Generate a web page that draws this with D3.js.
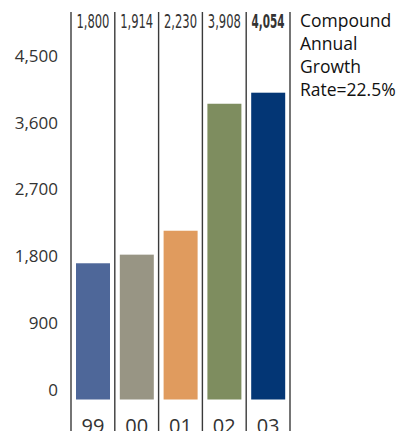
<!DOCTYPE html>
<html><head><meta charset="utf-8">
<script src="https://cdn.jsdelivr.net/npm/d3@7"></script>
<style>
html,body{margin:0;padding:0;background:#fff;}
svg{display:block;}
</style></head>
<body>
<svg id="chart" width="406" height="431"></svg>
<script>
const years = ["99", "00", "01", "02", "03"];
const values = [1800, 1914, 2230, 3908, 4054];
const valueLabels = ["1,800", "1,914", "2,230", "3,908", "4,054"];
const colors = ["#4e6799", "#989584", "#e09b5e", "#7e8d5f", "#033675"];
const yTicks = [0, 900, 1800, 2700, 3600, 4500];
const noteLines = ["Compound", "Annual", "Growth", "Rate=22.5%"];

const svg = d3.select("#chart");
const textColor = "#333";

const x = d3.scaleBand().domain(years).range([71, 290]).paddingInner(0).paddingOuter(0);
const y = d3.scaleLinear().domain([0, 4054]).range([399.5, 92.7]);
// tick label placement scale (labels sit slightly above their bar-scale positions in the original)
const yLab = d3.scaleLinear().domain([0, 4500]).range([390, 55.7]);

// bars
const barInset = 5, barW = 34;
svg.append("g").selectAll("rect").data(values).join("rect")
  .attr("x", (d, i) => x(years[i]) + barInset)
  .attr("y", d => y(d))
  .attr("width", barW)
  .attr("height", d => y(0) - y(d))
  .attr("fill", (d, i) => colors[i]);

// vertical separators
const seps = years.map(d => x(d)).concat([x(years[years.length - 1]) + x.bandwidth()]);
svg.append("g").selectAll("line").data(seps).join("line")
  .attr("x1", d => d).attr("x2", d => d)
  .attr("y1", 12).attr("y2", 431)
  .attr("stroke", "#3a3a3a").attr("stroke-width", 1.4);

// y axis labels
const axis = d3.axisLeft(yLab).tickValues(yTicks).tickSize(0).tickPadding(0)
  .tickFormat(d3.format(","));
const ag = svg.append("g").attr("transform", "translate(58,0)").call(axis);
ag.select(".domain").remove();
ag.selectAll("text").attr("font-family", "'Open Sans', sans-serif").attr("font-size", 17)
  .attr("fill", textColor);

// top value labels
svg.append("g").selectAll("text").data(valueLabels).join("text")
  .attr("x", (d, i) => x(years[i]) + x.bandwidth() / 2)
  .attr("y", 28)
  .attr("text-anchor", "middle")
  .attr("font-family", "'Liberation Sans Narrow', 'DejaVu Sans Condensed', sans-serif")
  .attr("font-size", 19)
  .attr("font-weight", (d, i) => i === valueLabels.length - 1 ? "bold" : "normal")
  .attr("textLength", 33)
  .attr("lengthAdjust", "spacingAndGlyphs")
  .attr("fill", textColor)
  .text(d => d);

// bottom year labels
svg.append("g").selectAll("text").data(years).join("text")
  .attr("x", d => x(d) + x.bandwidth() / 2)
  .attr("y", 433)
  .attr("text-anchor", "middle")
  .attr("font-family", "'Open Sans', sans-serif")
  .attr("font-size", 20)
  .attr("fill", textColor)
  .text(d => d);

// note
svg.append("g").selectAll("text").data(noteLines).join("text")
  .attr("x", 300)
  .attr("y", (d, i) => 27 + i * 23)
  .attr("font-family", "'Open Sans', sans-serif")
  .attr("font-size", 17.5)
  .attr("fill", "#111")
  .text(d => d);
</script>
</body></html>
